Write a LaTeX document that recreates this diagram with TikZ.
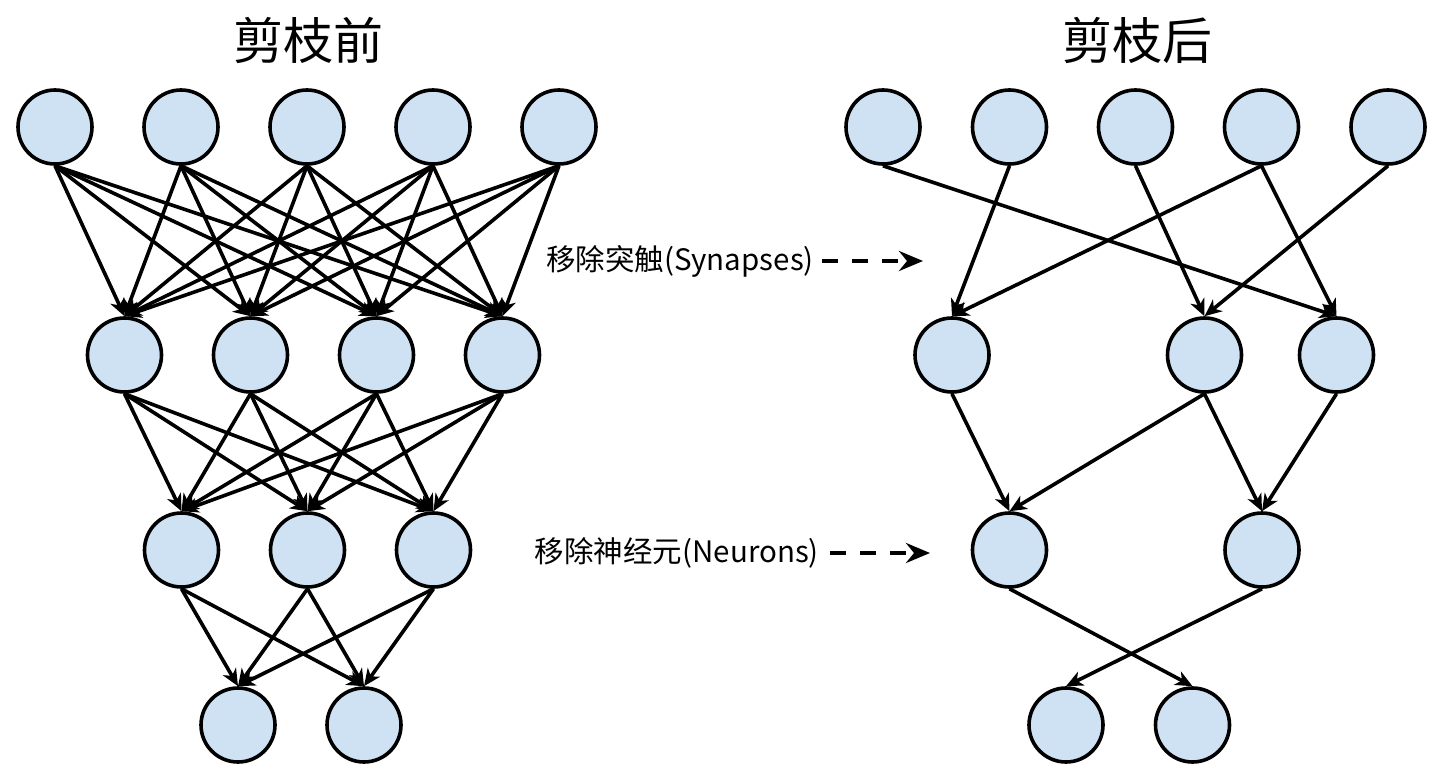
\documentclass[tikz,border=0pt]{standalone}
\usepackage{fontspec}
\setmainfont{Noto Sans CJK SC}
\usetikzlibrary{arrows.meta}
\definecolor{nfill}{HTML}{CFE2F3}
\begin{document}
\begin{tikzpicture}[x=1pt,y=-1pt,
  neuron/.style={circle, draw=black, fill=nfill, line width=3.6pt, minimum size=74pt, inner sep=0pt},
  syn/.style={line width=3.6pt, -{Stealth[length=17pt,width=15pt,inset=5pt]}},
  hint/.style={line width=4pt, dash pattern=on 16pt off 14pt, -{Stealth[length=24pt,width=20pt,inset=8pt]}},
  title/.style={font=\fontsize{50}{60}\selectfont, inner sep=0pt},
  note/.style={font=\fontsize{29.5}{36}\selectfont, inner ysep=0pt}]
\useasboundingbox (0,0) rectangle (1448,784);

% titles
\node[title] (t1) at (308,40) {剪枝前};
\node[title] (t2) at (1137,40) {剪枝后};

% left network
\foreach \n/\x in {1/55,2/181,3/307,4/433,5/559} \node[neuron] (A\n) at (\x,127) {};
\foreach \n/\x in {1/124.5,2/250.5,3/376.5,4/502.5} \node[neuron] (B\n) at (\x,355) {};
\foreach \n/\x in {1/181.5,2/307.5,3/433.5} \node[neuron] (C\n) at (\x,550) {};
\foreach \n/\x in {1/238,2/364} \node[neuron] (D\n) at (\x,725) {};

\foreach \i in {1,...,5} \foreach \j in {1,...,4} \draw[syn] (A\i.south) -- (B\j.north);
\foreach \i in {1,...,4} \foreach \j in {1,...,3} \draw[syn] (B\i.south) -- (C\j.north);
\foreach \i in {1,...,3} \foreach \j in {1,2} \draw[syn] (C\i.south) -- (D\j.north);

% right network
\foreach \n/\x in {1/883,2/1009.5,3/1135.5,4/1261.5,5/1388} \node[neuron] (P\n) at (\x,127) {};
\foreach \n/\x in {1/952,2/1204.5,3/1336.5} \node[neuron] (Q\n) at (\x,355) {};
\foreach \n/\x in {1/1009.5,2/1262} \node[neuron] (R\n) at (\x,550) {};
\foreach \n/\x in {1/1066,2/1192.5} \node[neuron] (S\n) at (\x,725) {};

\draw[syn] (P1.south) -- (Q3.north);
\draw[syn] (P2.south) -- (Q1.north);
\draw[syn] (P3.south) -- (Q2.north);
\draw[syn] (P4.south) -- (Q1.north);
\draw[syn] (P4.south) -- (Q3.north);
\draw[syn] (P5.south) -- (Q2.north);
\draw[syn] (Q1.south) -- (R1.north);
\draw[syn] (Q2.south) -- (R1.north);
\draw[syn] (Q2.south) -- (R2.north);
\draw[syn] (Q3.south) -- (R2.north);
\draw[syn] (R1.south) -- (S2.north);
\draw[syn] (R2.south) -- (S1.north);

% annotations
\node[note, anchor=east, inner xsep=8pt] (n1) at (822,261) {移除突触(Synapses)};
\coordinate (e1) at (923,261);
\draw[hint] (n1.east) -- (e1);
\node[note, anchor=east, inner xsep=11pt] (n2) at (830,553) {移除神经元(Neurons)};
\coordinate (e2) at (930,553);
\draw[hint] (n2.east) -- (e2);
\end{tikzpicture}
\end{document}
